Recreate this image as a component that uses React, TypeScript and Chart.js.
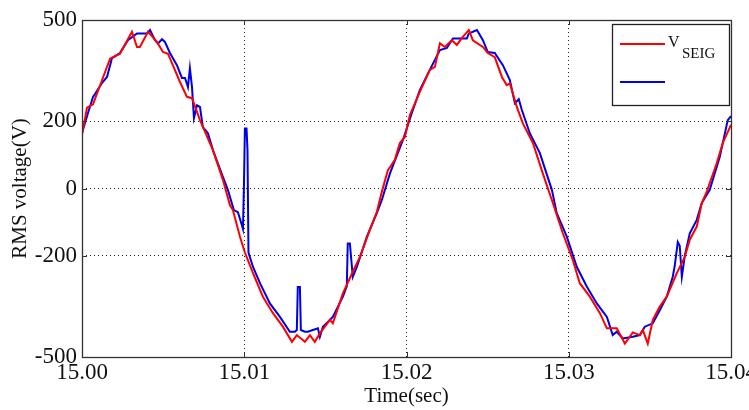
import React, { useEffect, useRef } from "react";
import { Chart, registerables } from "chart.js";

Chart.register(...registerables);

// Time axis (s) and tick labels
const xTicks = [15.0, 15.01, 15.02, 15.03, 15.04];
const yTicks = [-500, -200, 0, 200, 500];

// V_SEIG (red)
const redTime = [
  15.0, 15.00031, 15.00068, 15.00099, 15.00173, 15.00234, 15.00308, 15.00339, 15.00357, 15.00407,
  15.00462, 15.00499, 15.0053, 15.00604, 15.00647, 15.00678, 15.00727, 15.00807, 15.00869, 15.00912,
  15.0093, 15.00974, 15.01004, 15.01054, 15.01115, 15.01177, 15.01238, 15.01294, 15.01324, 15.01374, 15.01405,
  15.01435, 15.01466, 15.01528, 15.01546, 15.01608, 15.01669, 15.01713, 15.01774, 15.01817, 15.01848,
  15.01885, 15.01928, 15.01959, 15.0199, 15.02021, 15.02082, 15.02144, 15.02175, 15.02206, 15.02236,
  15.0228, 15.0231, 15.02347, 15.02384, 15.02409, 15.02471, 15.02501, 15.02544, 15.02588, 15.02618,
  15.02637, 15.0268, 15.02717, 15.02779, 15.0284, 15.02902, 15.02963, 15.03025, 15.03068, 15.0313,
  15.03192, 15.03235, 15.03296, 15.03346, 15.03395, 15.03438, 15.03457, 15.03487, 15.03518, 15.03561,
  15.03604, 15.03666, 15.03715, 15.03746, 15.03789, 15.0382, 15.0385, 15.03912, 15.03949, 15.04,
];
const redVolt = [
  160, 240, 250, 290, 385, 400, 465, 420, 420, 465,
  435, 405, 400, 316, 272, 268, 203, 114, 25, -50,
  -64, -144, -190, -251, -321, -370, -410, -455, -435, -455, -435,
  -455, -430, -390, -400, -311, -247, -203, -123, -70, -10,
  54, 85, 135, 153, 218, 287, 352, 361, 431, 420,
  440, 426, 450, 470, 440, 420, 402, 390, 331, 307,
  312, 242, 193, 135, 45, -43, -132, -212, -281, -321,
  -370, -415, -415, -460, -427, -435, -420, -460, -390, -350,
  -321, -251, -203, -152, -113, -43, -10, 75, 135, 189,
];

// Second measured voltage (blue)
const blueTime = [
  15.0, 15.00037, 15.00068, 15.0008, 15.00123, 15.00154, 15.00185, 15.00234, 15.00283, 15.00339,
  15.004, 15.00419, 15.0045, 15.00468, 15.00493, 15.00511, 15.00542, 15.00585, 15.00616, 15.00635,
  15.00653, 15.00665, 15.00678, 15.0069, 15.00709, 15.00727, 15.00745, 15.00776, 15.00807, 15.00869,
  15.00899, 15.00936, 15.00961, 15.00986, 15.00992, 15.00998, 15.01004, 15.01014, 15.0102, 15.01026,
  15.01054, 15.01097, 15.01158, 15.0122, 15.01281, 15.01312, 15.01324, 15.0133, 15.01343, 15.01349,
  15.01374, 15.01392, 15.01423, 15.01454, 15.01466, 15.01485, 15.01546, 15.01608, 15.01632, 15.01638,
  15.01651, 15.01669, 15.01694, 15.01756, 15.01817, 15.01848, 15.01898, 15.01978, 15.02033, 15.02082,
  15.02132, 15.02206, 15.02249, 15.02286, 15.02341, 15.02372, 15.02384, 15.02434, 15.02471, 15.02501,
  15.02544, 15.02594, 15.02637, 15.02668, 15.02692, 15.02711, 15.0276, 15.02822, 15.02896, 15.02926,
  15.02988, 15.0305, 15.03111, 15.03173, 15.03235, 15.03271, 15.03296, 15.03333, 15.03395, 15.03438,
  15.03469, 15.03518, 15.03561, 15.03604, 15.03641, 15.03653, 15.03672, 15.03684, 15.03697, 15.03715,
  15.03746, 15.03789, 15.0382, 15.03869, 15.03931, 15.0398, 15.04,
];
const blueVolt = [
  165, 224, 272, 280, 313, 331, 387, 402, 440, 460,
  460, 470, 440, 430, 443, 435, 402, 366, 328, 328,
  301, 357, 301, 209, 247, 242, 182, 164, 114, 34,
  -4, -64, -70, -110, -120, 5, 178, 178, 114, -190,
  -233, -281, -341, -381, -425, -425, -420, -292, -292, -420,
  -425, -425, -420, -415, -440, -410, -381, -321, -290, -163,
  -163, -262, -233, -143, -73, -34, 45, 144, 224, 292,
  341, 411, 417, 445, 445, 445, 460, 470, 440, 405,
  402, 366, 322, 253, 265, 233, 164, 105, -4, -73,
  -143, -233, -291, -341, -381, -435, -425, -445, -440, -435,
  -410, -400, -361, -321, -262, -230, -159, -170, -262, -200,
  -133, -93, -43, -4, 94, 203, 215,
];

const legendLabel = "V";
const legendSub = "SEIG";

const SERIF = "'Liberation Serif', 'DejaVu Serif', serif";

const boxPlugin = {
  id: "matlabBox",
  afterDatasetsDraw(chart: any) {
    const { ctx, chartArea: a, scales } = chart;
    ctx.save();
    // inner tick marks
    ctx.strokeStyle = "#333";
    ctx.lineWidth = 1;
    const tl = 5;
    ctx.beginPath();
    xTicks.forEach((t) => {
      const px = Math.round(scales.x.getPixelForValue(t)) + 0.5;
      ctx.moveTo(px, a.bottom);
      ctx.lineTo(px, a.bottom - tl);
      ctx.moveTo(px, a.top);
      ctx.lineTo(px, a.top + tl);
    });
    yTicks.forEach((v) => {
      const py = Math.round(scales.y.getPixelForValue(v)) + 0.5;
      ctx.moveTo(a.left, py);
      ctx.lineTo(a.left + tl, py);
      ctx.moveTo(a.right, py);
      ctx.lineTo(a.right - tl, py);
    });
    ctx.stroke();
    // box
    ctx.strokeStyle = "#333";
    ctx.lineWidth = 1.3;
    ctx.strokeRect(
      Math.round(a.left) + 0.5,
      Math.round(a.top) + 0.5,
      Math.round(a.right - a.left),
      Math.round(a.bottom - a.top)
    );
    // legend
    const lx = Math.round(a.right) - 119;
    const ly = Math.round(a.top) + 4;
    const lw = 117;
    const lh = 81;
    ctx.fillStyle = "#fff";
    ctx.fillRect(lx, ly, lw, lh);
    ctx.strokeStyle = "#222";
    ctx.lineWidth = 1.3;
    ctx.strokeRect(lx + 0.5, ly + 0.5, lw, lh);
    ctx.lineWidth = 2;
    ctx.strokeStyle = "#ff0000";
    ctx.beginPath();
    ctx.moveTo(lx + 8, ly + 20);
    ctx.lineTo(lx + 53, ly + 20);
    ctx.stroke();
    ctx.strokeStyle = "#0000e0";
    ctx.beginPath();
    ctx.moveTo(lx + 8, ly + 58);
    ctx.lineTo(lx + 53, ly + 58);
    ctx.stroke();
    ctx.fillStyle = "#111";
    ctx.textBaseline = "alphabetic";
    ctx.textAlign = "left";
    ctx.font = `16px ${SERIF}`;
    ctx.fillText(legendLabel, lx + 56, ly + 23);
    ctx.font = `15px ${SERIF}`;
    ctx.fillText(legendSub, lx + 70, ly + 34);
    ctx.restore();
  },
};

export default function App() {
  const ref = useRef<HTMLCanvasElement | null>(null);
  useEffect(() => {
    if (!ref.current) return;
    const chart = new Chart(ref.current, {
      type: "line",
      data: {
        datasets: [
          {
            label: "V_SEIG",
            data: redTime.map((t, i) => ({ x: t, y: redVolt[i] })),
            borderColor: "#ff0000",
            borderWidth: 2,
            pointRadius: 0,
            tension: 0,
            order: 0,
          },
          {
            label: "",
            data: blueTime.map((t, i) => ({ x: t, y: blueVolt[i] })),
            borderColor: "#0000e6",
            borderWidth: 2,
            pointRadius: 0,
            tension: 0,
            order: 1,
          },
        ],
      },
      options: {
        animation: false,
        responsive: false,
        maintainAspectRatio: false,
        layout: { padding: { left: 0, top: 20, right: 39, bottom: 0 } },
        plugins: { legend: { display: false }, tooltip: { enabled: false } },
        scales: {
          x: {
            type: "linear",
            min: 15.0,
            max: 15.04,
            afterBuildTicks: (s: any) => {
              s.ticks = xTicks.map((v) => ({ value: v }));
            },
            afterFit: (s: any) => {
              s.height = 53;
            },
            ticks: {
              callback: (v: any) => Number(v).toFixed(2),
              font: { family: SERIF, size: 23 },
              color: "#111",
              padding: 2,
              maxRotation: 0,
              autoSkip: false,
            },
            grid: { color: "#222", lineWidth: 1, drawTicks: false },
            border: { display: false, dash: [1, 3] },
            title: {
              display: true,
              text: "Time(sec)",
              font: { family: SERIF, size: 21 },
              color: "#111",
              padding: { top: 0, bottom: 1 },
            },
          },
          y: {
            type: "linear",
            min: -500,
            max: 500,
            afterBuildTicks: (s: any) => {
              s.ticks = yTicks.map((v) => ({ value: v }));
            },
            afterFit: (s: any) => {
              s.width = 82;
            },
            ticks: {
              font: { family: SERIF, size: 23 },
              color: "#111",
              padding: 5,
              autoSkip: false,
            },
            grid: { color: "#222", lineWidth: 1, drawTicks: false },
            border: { display: false, dash: [1, 3] },
            title: {
              display: true,
              text: "RMS voltage(V)",
              font: { family: SERIF, size: 21 },
              color: "#111",
              padding: { top: 8, bottom: 0 },
            },
          },
        },
      },
      plugins: [boxPlugin],
    });
    return () => chart.destroy();
  }, []);
  return (
    <div
      style={{
        position: "absolute",
        left: 0,
        top: 0,
        width: 749,
        height: 410,
        overflow: "hidden",
        background: "#fff",
      }}
    >
      <canvas ref={ref} width={770} height={410} style={{ display: "block" }} />
    </div>
  );
}
